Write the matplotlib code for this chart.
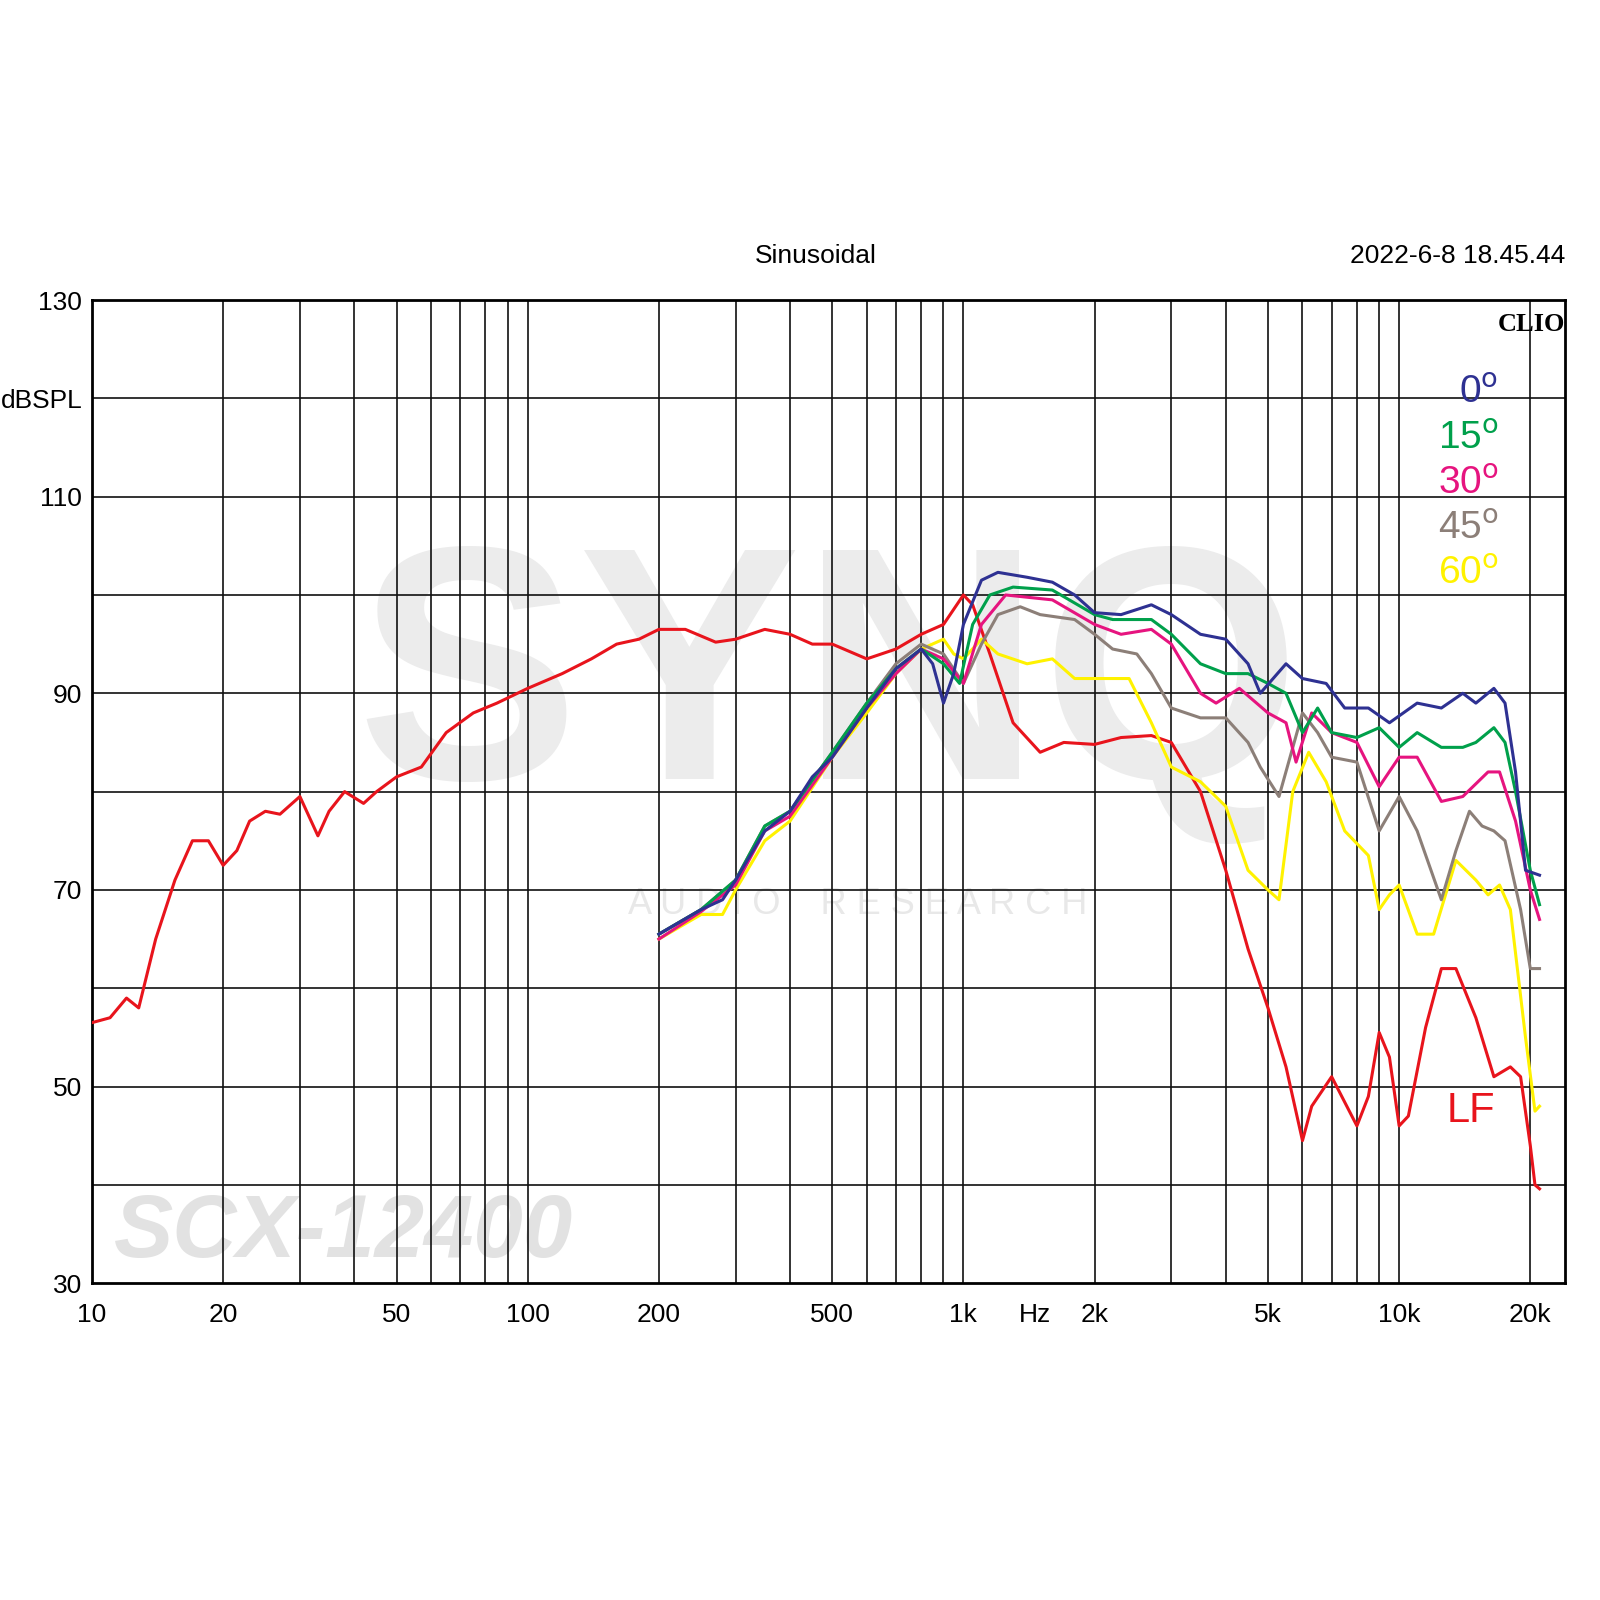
import matplotlib.pyplot as plt
import numpy as np

plt.rcParams["font.family"] = ["Liberation Sans", "DejaVu Sans"]

# ---- data (Hz, dBSPL) ----
lf_f = [10, 11, 12, 12.8, 14, 15.5, 17, 18.5, 20, 21.5, 23, 25, 27, 30, 33, 35, 38, 42, 45, 50,
        57, 65, 75, 85, 100, 120, 140, 160, 180, 200, 230, 270, 300, 350, 400, 450, 500, 600,
        700, 800, 900, 1000, 1050, 1150, 1300, 1500, 1700, 2000, 2300, 2700, 3000, 3500, 4000,
        4500, 5000, 5500, 6000, 6300, 7000, 8000, 8500, 9000, 9500, 10000, 10500, 11500, 12500,
        13500, 15000, 16500, 18000, 19000, 20000, 20500, 21000]
lf_db = [56.5, 57, 59, 58, 65, 71, 75, 75, 72.5, 74, 77, 78, 77.7, 79.5, 75.5, 78, 80, 78.8, 80, 81.5,
         82.5, 86, 88, 89, 90.5, 92, 93.5, 95, 95.5, 96.5, 96.5, 95.2, 95.5, 96.5, 96, 95, 95, 93.5,
         94.5, 96, 97, 100, 99, 94, 87, 84, 85, 84.8, 85.5, 85.7, 85, 80, 72,
         64, 58, 52, 44.5, 48, 51, 46, 49, 55.5, 53, 46, 47, 56, 62,
         62, 57, 51, 52, 51, 44, 40, 39.6]

d0_f = [200, 250, 280, 300, 350, 400, 450, 500, 600, 700, 800, 850, 900, 950, 1000, 1100, 1200, 1400,
        1600, 1800, 2000, 2300, 2700, 3000, 3500, 4000, 4500, 4800, 5500, 6000, 6800, 7500, 8500,
        9500, 11000, 12500, 14000, 15000, 16500, 17500, 18500, 19500, 21000]
d0_db = [65.5, 68, 69, 71, 76, 78, 81.5, 83.5, 88.5, 92.5, 94.5, 93, 89, 92, 97, 101.5, 102.3, 101.8,
         101.3, 100, 98.2, 98, 99, 98, 96, 95.5, 93, 90, 93, 91.5, 91, 88.5, 88.5,
         87, 89, 88.5, 90, 89, 90.5, 89, 82, 72, 71.5]

d15_f = [200, 250, 300, 350, 400, 500, 600, 700, 800, 900, 980, 1050, 1150, 1300, 1600, 2000, 2200,
         2700, 3000, 3500, 4000, 4500, 5000, 5500, 6000, 6500, 7000, 8000, 9000, 10000, 11000,
         12500, 14000, 15000, 16500, 17500, 18500, 20000, 21000]
d15_db = [65.5, 68, 71, 76.5, 78, 84, 89, 92.5, 94.5, 93, 91, 97, 100, 100.8, 100.5, 98, 97.5,
          97.5, 96, 93, 92, 92, 91, 90, 86, 88.5, 86, 85.5, 86.5, 84.5, 86,
          84.5, 84.5, 85, 86.5, 85, 80, 72, 68.5]

d30_f = [200, 250, 300, 350, 400, 500, 600, 700, 800, 900, 1000, 1100, 1250, 1600, 2000, 2300, 2700,
         3000, 3500, 3800, 4300, 5000, 5500, 5800, 6300, 7000, 8000, 9000, 10000, 11000, 12500,
         14000, 16000, 17000, 18500, 20000, 21000]
d30_db = [65, 67.8, 70.5, 76, 77.5, 83.5, 88.5, 92, 94.5, 93.5, 91, 97, 100, 99.5, 97, 96, 96.5,
          95, 90, 89, 90.5, 88, 87, 83, 88, 86, 85, 80.5, 83.5, 83.5, 79,
          79.5, 82, 82, 77, 70, 67]

d45_f = [200, 250, 300, 350, 400, 500, 600, 700, 800, 900, 1000, 1100, 1200, 1350, 1500, 1800, 2000,
         2200, 2500, 2700, 3000, 3500, 4000, 4500, 4800, 5300, 6000, 6500, 7000, 8000, 9000, 10000,
         11000, 12500, 13500, 14500, 15500, 16500, 17500, 19000, 20000, 21000]
d45_db = [65.5, 68, 71, 76.5, 78, 84, 89, 93, 95, 94, 91, 95, 98, 98.8, 98, 97.5, 96,
          94.5, 94, 92, 88.5, 87.5, 87.5, 85, 82.5, 79.5, 88, 86, 83.5, 83, 76, 79.5,
          76, 69, 74, 78, 76.5, 76, 75, 68, 62, 62]

d60_f = [200, 250, 280, 300, 350, 400, 500, 600, 700, 800, 900, 950, 1000, 1100, 1200, 1400, 1600,
         1800, 2000, 2400, 2700, 3000, 3500, 4000, 4500, 5000, 5300, 5700, 6200, 6800, 7500, 8500,
         9000, 9500, 10000, 11000, 12000, 13500, 15000, 16000, 17000, 18000, 19500, 20500, 21000]
d60_db = [65, 67.5, 67.5, 70, 75, 77, 83.5, 88, 92, 94.5, 95.5, 94, 93.5, 95.5, 94, 93, 93.5,
          91.5, 91.5, 91.5, 87, 82.5, 81, 78.5, 72, 70, 69, 80, 84, 81, 76, 73.5,
          68, 69.5, 70.5, 65.5, 65.5, 73, 71, 69.5, 70.5, 68, 55, 47.5, 48]

series = [
    (lf_f, lf_db, "#e8141c"),
    (d60_f, d60_db, "#fff200"),
    (d45_f, d45_db, "#8c7f78"),
    (d30_f, d30_db, "#e6147f"),
    (d15_f, d15_db, "#00a04b"),
    (d0_f, d0_db, "#2e3192"),
]
legend_labels = ["0", "15", "30", "45", "60"]
legend_colors = ["#2e3192", "#00a04b", "#e6147f", "#8c7f78", "#fff200"]

xtick_vals = [10, 20, 50, 100, 200, 500, 1000, 1460, 2000, 5000, 10000, 20000]
xtick_labels = ["10", "20", "50", "100", "200", "500", "1k", "Hz", "2k", "5k", "10k", "20k"]
ytick_vals = [30, 50, 70, 90, 110, 120, 130]
ytick_labels = ["30", "50", "70", "90", "110", "dBSPL", "130"]

fig = plt.figure(figsize=(16, 16), dpi=100)
ax = fig.add_axes([0.0575, 0.198, 0.9205, 0.6145])
ax.set_xscale("log")
ax.set_xlim(10, 24000)
ax.set_ylim(30, 130)

# grid
grid_f = [m * 10 ** e for e in range(1, 5) for m in range(1, 10)]
for g in grid_f:
    if 10 < g < 24000:
        ax.axvline(g, color="#111111", lw=1.2, zorder=1)
for h in range(40, 130, 10):
    ax.axhline(h, color="#111111", lw=1.2, zorder=1)

# watermark
ax.text(0.5, 0.6, "SYNQ", transform=ax.transAxes, fontsize=240, fontweight="bold",
        color="#ececec", ha="center", va="center", zorder=0.5)
ax.text(0.52, 0.385, "A U D I O    R E S E A R C H", transform=ax.transAxes, fontsize=26,
        color="#e8e8e8", ha="center", va="center", zorder=0.5)
ax.text(0.015, 0.05, "SCX-12400", transform=ax.transAxes, fontsize=64, fontweight="bold",
        style="italic", color="#e2e2e2", ha="left", va="center", zorder=0.5)

for f, d, c in series:
    ax.plot(f, d, color=c, lw=2.2, zorder=3)

for spine in ax.spines.values():
    spine.set_linewidth(2)
ax.minorticks_off()
ax.set_xticks(xtick_vals)
ax.set_xticklabels(xtick_labels, fontsize=19)
ax.set_yticks(ytick_vals)
ax.set_yticklabels(ytick_labels, fontsize=19)
ax.tick_params(axis="x", length=0, pad=14)
ax.tick_params(axis="y", length=0, pad=7)

for i, (lab, col) in enumerate(zip(legend_labels, legend_colors)):
    ax.text(0.955, 0.905 - i * 0.046, lab + r"$^{\mathrm{o}}$", transform=ax.transAxes,
            fontsize=28, color=col, ha="right", va="center", zorder=4)
ax.text(0.953, 0.175, "LF", transform=ax.transAxes, fontsize=30, color="#e8141c",
        ha="right", va="center", zorder=4)
ax.text(1.0, 0.975, "CLIO", transform=ax.transAxes, fontsize=19, fontweight="bold",
        family="Liberation Serif", ha="right", va="center", zorder=4)

fig.text(0.51, 0.84, "Sinusoidal", fontsize=19, ha="center", va="center")
fig.text(0.978, 0.84, "2022-6-8 18.45.44", fontsize=19, ha="right", va="center")

fig.savefig("out.png", dpi=100, facecolor="white")
